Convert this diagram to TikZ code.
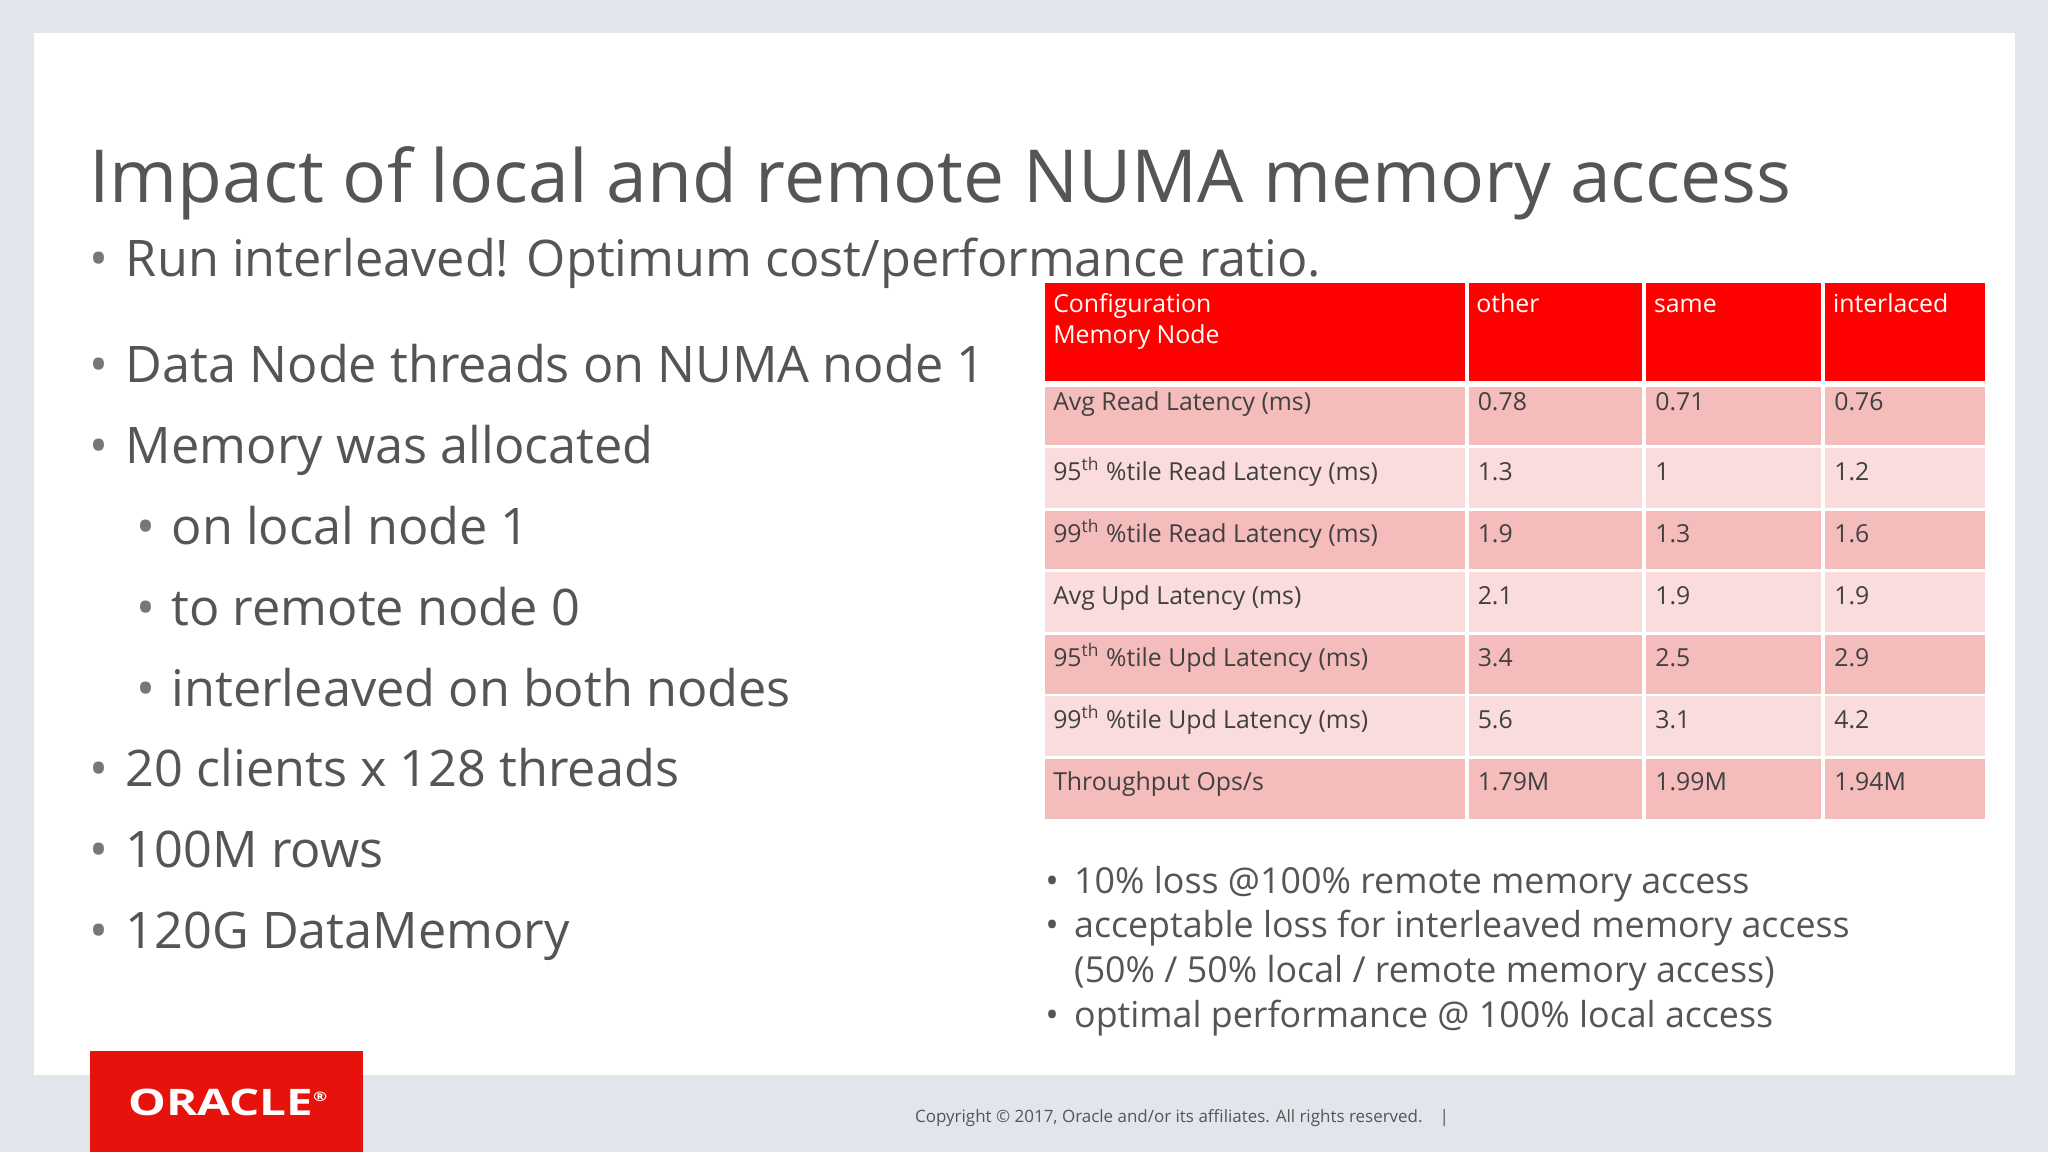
\documentclass[tikz,border=0pt]{standalone}
\usepackage{fontspec}
\setmainfont{Open Sans}
\begin{document}
\begin{tikzpicture}[x=0.5pt,y=-0.5pt]
\definecolor{bg}{HTML}{E1E5EC}
\definecolor{txt}{HTML}{555555}
\definecolor{ored}{HTML}{E8120C}
\definecolor{hdr}{HTML}{FF0000}
\definecolor{rowa}{HTML}{F5BCBC}
\definecolor{rowb}{HTML}{FADCDC}
\tikzset{
 big/.style={anchor=base west,inner sep=0,text=txt,font=\fontsize{19.3}{23}\selectfont},
 bul/.style={anchor=base west,inner sep=0,text=txt!80,font=\fontsize{19.3}{23}\selectfont},
 small/.style={anchor=base west,inner sep=0,text=txt,font=\fontsize{13.7}{16}\selectfont},
 cell/.style={anchor=base west,inner sep=0,text=black!75,font=\fontsize{9.5}{11}\selectfont},
 hcell/.style={anchor=base west,inner sep=0,text=white,align=left,font=\fontsize{9.5}{12}\selectfont}
}
\fill[bg] (0,0) rectangle (1568,882);
\useasboundingbox (0,0) rectangle (1568,882);
\fill[white] (26,25) rectangle (1543,823);
\fill[ored] (69,805) rectangle (278,882);
\node[inner sep=0,text=white,xscale=1.3,font=\fontsize{14}{14}\bfseries\selectfont] (logo) at (175,844) {ORACLE\textsuperscript{\tiny®}};
\node[inner sep=0,text=txt,font=\fontsize{6.5}{8}\selectfont] (copy) at (905,856) {Copyright © 2017, Oracle and/or its affiliates. All rights reserved.\quad|};
\node[anchor=base west,inner sep=0,text=txt,font=\fontsize{28}{32}\selectfont] (title) at (68,155) {Impact of local and remote NUMA memory access};
% bullets
\foreach \y/\t [count=\i] in {212/{Run interleaved! Optimum cost/performance ratio.},293/Data Node threads on NUMA node 1,355/Memory was allocated,602/20 clients x 128 threads,664/100M rows,726/120G DataMemory}{
 \node[bul] (b\i) at (68,\y) {•};
 \node[big] (t\i) at (96,\y) {\t};
}
\foreach \y/\t [count=\i] in {417/on local node 1,479/to remote node 0,541/interleaved on both nodes}{
 \node[bul] (sb\i) at (104,\y) {•};
 \node[big] (st\i) at (131,\y) {\t};
}
% table
\fill[hdr] (800,217) rectangle (1520,292);
\foreach \ya/\yb/\c in {296/341/rowa,343/389/rowb,391/436/rowa,438/484/rowb,486/531/rowa,533/579/rowb,581/627/rowa}{
 \fill[\c] (800,\ya) rectangle (1520,\yb);
}
\foreach \x in {1123,1259,1396}{\draw[white,line width=1.5pt] (\x,217) -- (\x,627);}
\node[hcell] (h0) at (806,239) {Configuration};
\node[hcell] (h0b) at (806,263) {Memory Node};
\node[hcell] (h1) at (1130,239) {other};
\node[hcell] (h2) at (1266,239) {same};
\node[hcell] (h3) at (1403,239) {interlaced};
\def\th{\textsuperscript{th}}
\foreach \y/\a/\b/\c/\d [count=\i] in {
 314/Avg Read Latency (ms)/0.78/0.71/0.76,
 368/95\th\ \%tile Read Latency (ms)/1.3/1/1.2,
 415/99\th\ \%tile Read Latency (ms)/1.9/1.3/1.6,
 463/Avg Upd Latency (ms)/2.1/1.9/1.9,
 510/95\th\ \%tile Upd Latency (ms)/3.4/2.5/2.9,
 558/99\th\ \%tile Upd Latency (ms)/5.6/3.1/4.2,
 605/{Throughput Ops/s}/1.79M/1.99M/1.94M}{
 \node[cell] (r\i a) at (806,\y) {\a};
 \node[cell] (r\i b) at (1131,\y) {\b};
 \node[cell] (r\i c) at (1267,\y) {\c};
 \node[cell] (r\i d) at (1404,\y) {\d};
}
% bottom bullets
\node[small] (p1) at (800,684) {•}; \node[small] (q1) at (822,684) {10\% loss @100\% remote memory access};
\node[small] (p2) at (800,718) {•}; \node[small] (q2) at (822,718) {acceptable loss for interleaved memory access};
\node[small] (q3) at (822,752) {(50\% / 50\% local / remote memory access)};
\node[small] (p4) at (800,787) {•}; \node[small] (q4) at (822,787) {optimal performance @ 100\% local access};
\end{tikzpicture}
\end{document}
